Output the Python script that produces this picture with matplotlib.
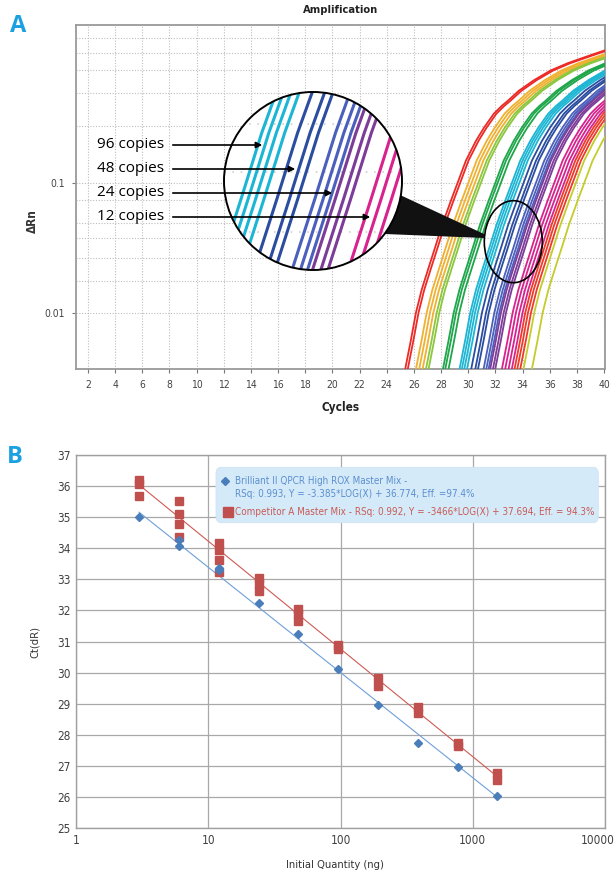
import numpy as np
import matplotlib
matplotlib.use("Agg")
import matplotlib.pyplot as plt
from matplotlib import font_manager
from matplotlib.patches import Circle, Polygon, FancyArrowPatch, FancyBboxPatch
from matplotlib.lines import Line2D
from matplotlib.transforms import ScaledTranslation

# ---------------- data: panel A (amplification plot) ----------------
# one amplification curve (leftmost red trace)
base_cycles = [25.27, 25.7, 26.08, 26.5, 27.0, 27.5, 28.0, 28.66, 29.15, 29.76,
               30.5, 31.09, 31.82, 32.4, 32.85, 33.66, 34.8, 36.0, 37.25, 38.6, 40.07]
base_drn = [0.0036, 0.0061, 0.010, 0.0150, 0.022, 0.032, 0.047, 0.073, 0.100, 0.148,
            0.21, 0.265, 0.34, 0.39, 0.427, 0.51, 0.617, 0.73, 0.83, 0.93, 1.05]

# cycle at which each trace leaves the bottom of the plot, with its colour
curve_start = [25.34, 25.53,
               26.13, 26.37, 26.62,
               26.87, 27.06,
               28.12, 28.29, 28.53,
               29.34, 29.51, 29.69, 29.89,
               30.20, 30.50, 30.70,
               31.11, 31.31, 31.48,
               31.60, 31.80, 31.97,
               32.46, 32.70, 32.95, 33.19,
               33.39, 33.59, 33.81,
               34.05, 34.67]
curve_color = (['#ec2a26'] * 2 + ['#f0b030'] * 3 + ['#8cc63f'] * 2 + ['#1ea64a'] * 3 +
               ['#1cb6d4'] * 4 + ['#2b4da0'] * 3 + ['#4b5fbc'] * 3 + ['#7d3c98'] * 3 +
               ['#d8228e'] * 4 + ['#ee3a2a'] * 3 + ['#c4cc2a'] * 2)

copy_labels = ['96 copies', '48 copies', '24 copies', '12 copies']

# ---------------- data: panel B (standard curve) ----------------
quantity = [3, 6, 12, 24, 48, 96, 192, 384, 768, 1536]
ct_brilliant = [[35.0], [34.07, 34.27], [33.30, 33.37], [32.25], [31.25],
                [30.13], [28.96], [27.72], [26.97], [26.02]]
ct_competitor = [[36.18, 36.07, 35.68], [35.52, 35.10, 34.77, 34.37],
                 [34.17, 33.95, 33.61, 33.25], [33.03, 32.84, 32.62],
                 [32.04, 31.88, 31.67], [30.90, 30.75], [29.82, 29.57],
                 [28.89, 28.70], [27.72, 27.63], [26.76, 26.53]]
fit_slope = [-3.385, -3.466]
fit_intercept = [36.774, 37.694]
legend_lines = ['Brilliant II QPCR High ROX Master Mix -',
                'RSq: 0.993, Y = -3.385*LOG(X) + 36.774, Eff. =97.4%',
                'Competitor A Master Mix - RSq: 0.992, Y = -3466*LOG(X) + 37.694, Eff. = 94.3%']

# ---------------- fonts ----------------
narrow_name = None
for f in font_manager.fontManager.ttflist:
    if 'Narrow' in f.name or 'Condensed' in f.name or f.stretch in ('condensed', 'semi-condensed'):
        narrow_name = f.name
        narrow = dict(family=f.name, stretch=f.stretch)
        break
if narrow_name is None:
    narrow = dict(family='Roboto')

W, H = 616, 871
fig = plt.figure(figsize=(W / 100, H / 100), dpi=100)


def fx(x):
    return x / W


def fy(y):
    return 1 - y / H


def box(left, top, right, bottom):
    return [fx(left), fy(bottom), (right - left) / W, (bottom - top) / H]


# ================= panel A =================
ax = fig.add_axes(box(76, 25, 605, 369))
ax.set_yscale('log')
for start, col in zip(curve_start, curve_color):
    shift = start - base_cycles[0]
    ax.plot(np.array(base_cycles) + shift, base_drn, color=col, lw=1.3, zorder=3)
ax.set_xlim(1.12, 40.07)
ax.set_ylim(0.00369, 1.633)
ax.set_xticks(range(2, 41, 2))
ax.set_yticks([0.01, 0.1])
ax.set_yticklabels(['0.01', '0.1'])
ax.yaxis.set_minor_locator(matplotlib.ticker.NullLocator())
for g in [0.0176, 0.0265, 0.0375, 0.0494, 0.0736, 0.1, 0.273, 0.489, 0.737, 0.99, 1.295, 0.01]:
    ax.axhline(g, color='#bdbdbd', lw=0.8, ls=(0, (1, 1.5)), zorder=1)
ax.grid(axis='x', color='#bdbdbd', lw=0.8, ls=(0, (1, 1.5)), zorder=1)
for s in ax.spines.values():
    s.set_color('#9a9a9a')
    s.set_linewidth(1.3)
ax.tick_params(length=3, color='#777777', labelcolor='#444444', labelsize=7.5, pad=5)
for lab in ax.get_xticklabels() + ax.get_yticklabels():
    lab.set(**narrow)
ax.set_title('Amplification', fontsize=8, fontweight='bold', pad=9, color='#222222', **narrow)
ax.set_xlabel('Cycles', fontsize=8.5, fontweight='bold', labelpad=8, color='#222222', **narrow)
ax.set_ylabel('ΔRn', fontsize=8.5, fontweight='bold', color='#333333', **narrow)
ax.yaxis.set_label_coords(-0.07, 0.43)

# small circle marking the zoomed region
fig.add_artist(Circle((fx(513.3), fy(241.7)), 29 / W, transform=fig.transFigure,
                      fill=False, ec='black', lw=1.2, zorder=2))
# black wedge joining the two circles
fig.add_artist(Polygon([(fx(385), fy(188)), (fx(484), fy(234)), (fx(484), fy(238)),
                        (fx(385), fy(234))], closed=True, transform=fig.transFigure,
                       fc='#111111', ec='none', zorder=2))

# magnified view of the small circle
ax_in = fig.add_axes(box(224, 92, 402, 270), zorder=3)
ax_in.set_yscale('log')
c0, y0 = 33.3, 0.0356
ax_in.set_xlim(c0 - 29 / 13.58, c0 + 29 / 13.58)
ax_in.set_ylim(y0 / 10 ** (29 / 130), y0 * 10 ** (29 / 130))
ax_in.axis('off')
disc = Circle((0.5, 0.5), 0.5, transform=ax_in.transAxes, fc='white', ec='none', zorder=0)
ax_in.add_patch(disc)
for g in [0.0265, 0.0375, 0.0494]:
    ax_in.axhline(g, color='#cfcfcf', lw=1.2, ls=(0, (1, 4)), zorder=1, clip_path=disc)
for start, col in zip(curve_start, curve_color):
    shift = start - base_cycles[0]
    ln, = ax_in.plot(np.array(base_cycles) + shift, base_drn, color=col, lw=2.2, zorder=2)
    ln.set_clip_path(disc)
ax_in.add_patch(Circle((0.5, 0.5), 0.5, transform=ax_in.transAxes, fill=False,
                       ec='black', lw=1.4, zorder=4, clip_on=False))

# copy-number labels and arrows
for lab, ty, tip in zip(copy_labels, [144, 168, 192, 216], [265, 298, 335, 373]):
    fig.text(fx(97), fy(ty), lab, fontsize=11, family='Open Sans', va='center', ha='left',
             color='black', zorder=6)
    fig.add_artist(FancyArrowPatch((fx(170), fy(ty + 1)), (fx(tip), fy(ty + 1)),
                                   transform=fig.transFigure, arrowstyle='-|>',
                                   mutation_scale=9, lw=1.2, color='black', zorder=6))

fig.text(fx(18), fy(26), 'A', fontsize=17, fontweight='bold', color='#1ba1e2',
         family='Open Sans', ha='center', va='center')

# ================= panel B =================
bx = fig.add_axes(box(76, 455, 605, 828))
bx.set_xscale('log')
for q, vals in zip(quantity, ct_brilliant):
    bx.plot([q] * len(vals), vals, ls='none', marker='D', ms=4.5, color='#4a7ebb', zorder=4)
for q, vals in zip(quantity, ct_competitor):
    bx.plot([q] * len(vals), vals, ls='none', marker='s', ms=5.2, color='#c0504d', zorder=3)
qx = np.array([quantity[0], quantity[-1]], dtype=float)
bx.plot(qx, fit_slope[0] * np.log10(qx) + fit_intercept[0], color='#6f9fd8', lw=0.8, zorder=2)
bx.plot(qx, fit_slope[1] * np.log10(qx) + fit_intercept[1], color='#cf5a55', lw=0.8, zorder=2)
bx.set_xlim(1, 10000)
bx.set_ylim(25, 37)
bx.set_xticks([1, 10, 100, 1000, 10000])
bx.set_xticklabels(['1', '10', '100', '1000', '10000'])
bx.xaxis.set_minor_locator(matplotlib.ticker.NullLocator())
bx.set_yticks(range(25, 38))
bx.grid(color='#a8a8a8', lw=0.9, zorder=1)
for s in bx.spines.values():
    s.set_color('#a0a0a0')
    s.set_linewidth(1.0)
bx.tick_params(length=0, labelcolor='#404040', labelsize=8.5, pad=4)
for lab in bx.get_xticklabels() + bx.get_yticklabels():
    lab.set(**narrow)
last = bx.get_xticklabels()[-1]
last.set_transform(last.get_transform() + ScaledTranslation(-0.07, 0, fig.dpi_scale_trans))
bx.set_xlabel('Initial Quantity (ng)', fontsize=8, color='#333333', **narrow)
bx.xaxis.set_label_coords(0.49, -0.085)
bx.set_ylabel('Ct(dR)', fontsize=8, color='#333333', **narrow)
bx.yaxis.set_label_coords(-0.068, 0.5)

# legend box
fig.add_artist(FancyBboxPatch((fx(216), fy(522.7)), (598.3 - 216) / W, (522.7 - 467.3) / H,
                              boxstyle='round,pad=0,rounding_size=0.008',
                              transform=fig.transFigure, fc='#d5eaf8', ec='#cfe3f2',
                              lw=0.6, zorder=5))
fig.add_artist(Line2D([fx(225)], [fy(480.7)], marker='D', ms=4.5, color='#4a7ebb',
                      transform=fig.transFigure, zorder=6))
fig.add_artist(Line2D([fx(227.5)], [fy(511.7)], marker='s', ms=6.5, color='#c0504d',
                      transform=fig.transFigure, zorder=6))
leg_texts = []
for txt, ty, col in zip(legend_lines, [480.7, 494.3, 511.7], ['#5a8ed0', '#5a8ed0', '#c85a55']):
    leg_texts.append(fig.text(fx(235), fy(ty), txt, fontsize=8.6, color=col, va='center',
                              ha='left', zorder=6, **narrow))
# shrink legend text so the long line ends where it does in the picture
fig.canvas.draw()
wide = leg_texts[2].get_window_extent().width
size = 8.6 * min(1.0, (592 - 235) / wide)
for t in leg_texts:
    t.set_fontsize(size)

fig.text(fx(15), fy(457), 'B', fontsize=17, fontweight='bold', color='#1ba1e2',
         family='Open Sans', ha='center', va='center')

fig.savefig('out.png', dpi=100)
